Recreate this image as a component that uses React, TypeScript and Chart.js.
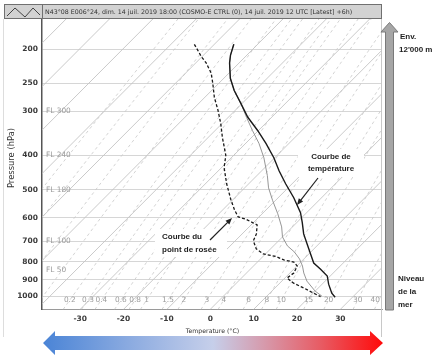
import { useEffect, useRef } from "react";
import { Chart, registerables } from "chart.js";
Chart.register(...registerables);

const SKEW = 35.3;
const P_REF = 1090;
const P_TOP = 164.5;
const P_BOTTOM = 1091;
const T_MIN = -38.8;
const T_MAX = 39.6;

const pressureTicks = [200, 250, 300, 400, 500, 600, 700, 800, 900, 1000];
const temperatureTicks = [-30, -20, -10, 0, 10, 20, 30];
const isothermValues = [-110, -100, -90, -80, -70, -60, -50, -40, -30, -20, -10, 0, 10, 20, 30, 40];
const mixingRatioValues = [0.01, 0.02, 0.05, 0.1, 0.2, 0.3, 0.4, 0.6, 0.8, 1, 1.5, 2, 3, 4, 6, 8, 10, 15, 20, 30, 40];
const mixingRatioLabels = ["0.01", "0.02", "0.05", "0.1", "0.2", "0.3", "0.4", "0.6", "0.8", "1", "1.5", "2", "3", "4", "6", "8", "10", "15", "20", "30", "40"];
const mixingLinePressures = [1091, 1050, 1000, 950, 900, 850, 800, 750, 700, 650, 600, 550, 500, 450, 400, 350, 300, 270, 240, 220, 200, 180, 164.5];
const flightLevelLabels = ["FL 300", "FL 240", "FL 180", "FL 100", "FL 50"];
const flightLevelPressures = [300, 400, 500, 700, 843];

// Temperature profile (hPa, °C)
const tempPressure = [194, 208, 219, 242, 262, 285, 312, 340, 370, 406, 442, 481, 527, 581, 620, 667, 712, 760, 806, 838, 877, 925, 981, 1007];
const temperature = [-55.5, -53.8, -52.2, -48.5, -44.8, -40.3, -35.5, -30.2, -25.3, -20.2, -16.0, -11.5, -6.4, -1.4, 1.3, 4.2, 7.3, 10.4, 13.2, 16.1, 19.3, 21.5, 24.3, 26.0];

// Dew point profile
const dewPressure = [194, 210, 219, 234, 250, 274, 298, 325, 356, 400, 433, 481, 532, 570, 597, 606, 616, 629, 667, 698, 735, 760, 772, 790, 801, 822, 860, 889, 919, 949, 981, 1003];
const dewPoint = [-64.6, -60.2, -57.6, -54.1, -51.4, -47.8, -44.0, -40.3, -36.7, -31.8, -29.4, -25.1, -20.6, -17.3, -14.8, -12.5, -10.8, -8.6, -6.7, -5.8, -3.3, -0.5, 2.9, 5.6, 8.4, 10.1, 10.9, 10.5, 13.2, 16.7, 20.1, 22.5];

// Thin grey profile
const thinPressure = [194, 208, 219, 242, 262, 285, 312, 340, 370, 406, 456, 494, 537, 585, 637, 680, 721, 750, 785, 822, 860, 907, 968, 1000];
const thinTemp = [-55.5, -53.8, -52.2, -48.5, -44.8, -40.3, -35.8, -31.4, -26.9, -22.5, -17.6, -14.5, -10.6, -6.4, -2.5, 0.0, 3.2, 6.2, 9.0, 11.3, 13.2, 15.8, 20.0, 22.7];

const TITLE = "N43°08 E006°24, dim. 14 juil. 2019 18:00 (COSMO-E CTRL (0), 14 juil. 2019 12 UTC [Latest] +6h)";

const skewX = (t: number, p: number) => t + SKEW * Math.log(P_REF / p);
const mixT = (w: number, p: number) => {
  const e = (w * p) / (622 + w);
  const a = Math.log(e / 6.112);
  return (243.5 * a) / (17.67 - a);
};

function arrow(ctx: CanvasRenderingContext2D, x1: number, y1: number, x2: number, y2: number) {
  const ang = Math.atan2(y2 - y1, x2 - x1);
  const hl = 7;
  ctx.beginPath();
  ctx.moveTo(x1, y1);
  ctx.lineTo(x2 - Math.cos(ang) * 4, y2 - Math.sin(ang) * 4);
  ctx.strokeStyle = "#222";
  ctx.lineWidth = 1.2;
  ctx.stroke();
  ctx.beginPath();
  ctx.moveTo(x2, y2);
  ctx.lineTo(x2 - hl * Math.cos(ang - 0.4), y2 - hl * Math.sin(ang - 0.4));
  ctx.lineTo(x2 - hl * Math.cos(ang + 0.4), y2 - hl * Math.sin(ang + 0.4));
  ctx.closePath();
  ctx.fillStyle = "#222";
  ctx.fill();
}

const overlay = {
  id: "overlay",
  afterDraw(chart: any) {
    const ctx: CanvasRenderingContext2D = chart.ctx;
    const { left, right, top } = chart.chartArea;
    const xs = chart.scales.x;
    const ys = chart.scales.y;
    ctx.save();

    // frame lines
    ctx.strokeStyle = "#dddddd";
    ctx.lineWidth = 1;
    ctx.beginPath();
    ctx.moveTo(3.5, 19);
    ctx.lineTo(3.5, 337);
    ctx.stroke();
    ctx.strokeStyle = "#c8c8c8";
    ctx.beginPath();
    ctx.moveTo(right - 0.5, top);
    ctx.lineTo(right - 0.5, 337);
    ctx.stroke();

    // FL labels
    ctx.font = '7.4px "DejaVu Sans"';
    ctx.fillStyle = "#9a9a9a";
    ctx.textBaseline = "middle";
    ctx.textAlign = "left";
    flightLevelLabels.forEach((l, i) => {
      ctx.fillText(l, left + 4, ys.getPixelForValue(flightLevelPressures[i]));
    });

    // mixing ratio labels
    ctx.font = '7.4px "DejaVu Sans"';
    ctx.fillStyle = "#9c9c9c";
    ctx.textAlign = "center";
    const pl = 1026;
    mixingRatioValues.forEach((w, i) => {
      let x = xs.getPixelForValue(skewX(mixT(w, pl), pl));
      const tw = ctx.measureText(mixingRatioLabels[i]).width;
      if (x - tw / 2 < left + 2) return;
      x = Math.min(x, right - tw / 2 - 2);
      ctx.fillText(mixingRatioLabels[i], x, ys.getPixelForValue(pl));
    });

    // annotations
    ctx.fillStyle = "#ffffff";
    ctx.fillRect(155, 229, 72, 28);
    ctx.fillRect(298, 149, 66, 28);
    ctx.fillStyle = "#1e1e1e";
    ctx.font = 'bold 8px "Liberation Sans"';
    ctx.textAlign = "left";
    ctx.fillText("Courbe du", 162, 237);
    ctx.fillText("point de rosée", 162, 250);
    ctx.textAlign = "center";
    ctx.fillText("Courbe de", 331, 157);
    ctx.fillText("température", 331, 169);
    arrow(ctx, 210, 240, 232, 218);
    arrow(ctx, 318, 178, 297, 205);

    // right vertical arrow
    ctx.fillStyle = "#a6a6a6";
    ctx.strokeStyle = "#7a7a7a";
    ctx.lineWidth = 1;
    ctx.beginPath();
    ctx.moveTo(385.5, 310);
    ctx.lineTo(385.5, 32);
    ctx.lineTo(381, 32);
    ctx.lineTo(389.5, 22.5);
    ctx.lineTo(398, 32);
    ctx.lineTo(393.5, 32);
    ctx.lineTo(393.5, 310);
    ctx.closePath();
    ctx.fill();
    ctx.stroke();

    ctx.fillStyle = "#1e1e1e";
    ctx.font = 'bold 8px "Liberation Sans"';
    ctx.textAlign = "left";
    ctx.fillText("Env.", 400, 37);
    ctx.fillText("12'000 m", 399, 50);
    ctx.fillText("Niveau", 398, 279);
    ctx.fillText("de la", 398, 292);
    ctx.fillText("mer", 398, 305);

    // title bar
    ctx.fillStyle = "#d2d2d2";
    ctx.fillRect(4.5, 4.5, 377, 14);
    ctx.strokeStyle = "#707070";
    ctx.strokeRect(4.5, 4.5, 377, 14);
    ctx.beginPath();
    ctx.moveTo(left + 0.5, 4.5);
    ctx.lineTo(left + 0.5, 18.5);
    ctx.stroke();
    ctx.strokeStyle = "#444";
    ctx.lineWidth = 1;
    ctx.beginPath();
    ctx.moveTo(7, 16);
    ctx.lineTo(15, 8);
    ctx.lineTo(25, 17);
    ctx.lineTo(33, 8);
    ctx.lineTo(40, 15);
    ctx.stroke();
    ctx.fillStyle = "#333";
    let fs = 6;
    ctx.font = `${fs}px "DejaVu Sans"`;
    const wTxt = ctx.measureText(TITLE).width;
    fs = (fs * 308) / wTxt;
    ctx.font = `${fs}px "DejaVu Sans"`;
    ctx.textAlign = "left";
    ctx.textBaseline = "middle";
    ctx.fillText(TITLE, 45, 12);

    // axis titles
    ctx.fillStyle = "#333";
    ctx.font = '6.2px "DejaVu Sans"';
    ctx.textAlign = "center";
    ctx.fillText("Temperature (°C)", 212.5, 331);
    ctx.save();
    ctx.translate(11.5, 158);
    ctx.rotate(-Math.PI / 2);
    ctx.font = '8.4px "DejaVu Sans"';
    ctx.fillText("Pressure (hPa)", 0, 0);
    ctx.restore();

    // bottom gradient arrow
    const g = ctx.createLinearGradient(43, 0, 383, 0);
    g.addColorStop(0, "#4a84d6");
    g.addColorStop(0.25, "#8aaae0");
    g.addColorStop(0.5, "#c6cfea");
    g.addColorStop(0.65, "#d69aac");
    g.addColorStop(0.82, "#e85a62");
    g.addColorStop(1, "#ff0a0a");
    ctx.fillStyle = g;
    ctx.beginPath();
    ctx.moveTo(43, 343);
    ctx.lineTo(55, 331);
    ctx.lineTo(55, 336);
    ctx.lineTo(370, 336);
    ctx.lineTo(370, 331);
    ctx.lineTo(383, 343);
    ctx.lineTo(370, 355);
    ctx.lineTo(370, 350);
    ctx.lineTo(55, 350);
    ctx.lineTo(55, 355);
    ctx.closePath();
    ctx.fill();

    ctx.restore();
  },
};

export default function App() {
  const ref = useRef<HTMLCanvasElement>(null);
  useEffect(() => {
    if (!ref.current) return;
    const datasets: any[] = [];
    datasets.push({
      label: "Température",
      data: tempPressure.map((p, i) => ({ x: skewX(temperature[i], p), y: p })),
      borderColor: "#1a1a1a",
      borderWidth: 1.4,
      order: 0,
    });
    datasets.push({
      label: "Point de rosée",
      data: dewPressure.map((p, i) => ({ x: skewX(dewPoint[i], p), y: p })),
      borderColor: "#1a1a1a",
      borderWidth: 1.3,
      borderDash: [3, 2],
      order: 1,
    });
    datasets.push({
      label: "Profil",
      data: thinPressure.map((p, i) => ({ x: skewX(thinTemp[i], p), y: p })),
      borderColor: "#8a8a8a",
      borderWidth: 0.9,
      order: 2,
    });
    isothermValues.forEach((t) => {
      datasets.push({
        label: `iso ${t}`,
        data: [P_BOTTOM, P_TOP].map((p) => ({ x: skewX(t, p), y: p })),
        borderColor: "#c4c4c4",
        borderWidth: 0.9,
        order: 10,
      });
    });
    mixingRatioValues.forEach((w) => {
      datasets.push({
        label: `w ${w}`,
        data: mixingLinePressures.map((p) => ({ x: skewX(mixT(w, p), p), y: p })),
        borderColor: "#c8c8c8",
        borderWidth: 0.8,
        borderDash: [3, 3],
        order: 11,
      });
    });
    datasets.forEach((d) => {
      d.pointRadius = 0;
      d.fill = false;
      d.tension = 0;
      d.clip = 0;
      d.showLine = true;
    });

    const chart = new Chart(ref.current, {
      type: "scatter",
      data: { datasets },
      options: {
        animation: false,
        responsive: false,
        devicePixelRatio: 1,
        layout: { padding: { left: 0, right: 58, top: 19, bottom: 0 } },
        plugins: { legend: { display: false }, tooltip: { enabled: false }, title: { display: false } },
        scales: {
          x: {
            type: "linear",
            min: T_MIN,
            max: T_MAX,
            afterBuildTicks: (s: any) => {
              s.ticks = temperatureTicks.map((v) => ({ value: v }));
            },
            afterFit: (s: any) => {
              s.height = 49.5;
            },
            grid: { display: false, drawTicks: false },
            border: { display: true, color: "#9a9a9a", width: 1 },
            ticks: {
              padding: 5,
              color: "#3a3a3a",
              font: { family: "DejaVu Sans", size: 7.5, weight: "bold" },
              callback: (v: any) => String(v),
              maxRotation: 0,
            },
          },
          y: {
            type: "logarithmic",
            reverse: true,
            min: P_TOP,
            max: P_BOTTOM,
            afterBuildTicks: (s: any) => {
              s.ticks = pressureTicks.map((v) => ({ value: v }));
            },
            afterFit: (s: any) => {
              s.width = 42;
            },
            grid: { color: "#d6d6d6", lineWidth: 1, drawTicks: false },
            border: { display: true, color: "#555555", width: 1.5 },
            ticks: {
              padding: 4,
              color: "#3a3a3a",
              font: { family: "DejaVu Sans", size: 7.5, weight: "bold" },
              callback: (v: any) => String(v),
            },
          },
        },
      },
      plugins: [overlay],
    } as any);
    return () => chart.destroy();
  }, []);
  return (
    <div style={{ position: "fixed", left: 0, top: 0, width: 440, height: 359, background: "#fff" }}>
      <canvas ref={ref} width={440} height={359} style={{ width: 440, height: 359, display: "block" }} />
    </div>
  );
}
